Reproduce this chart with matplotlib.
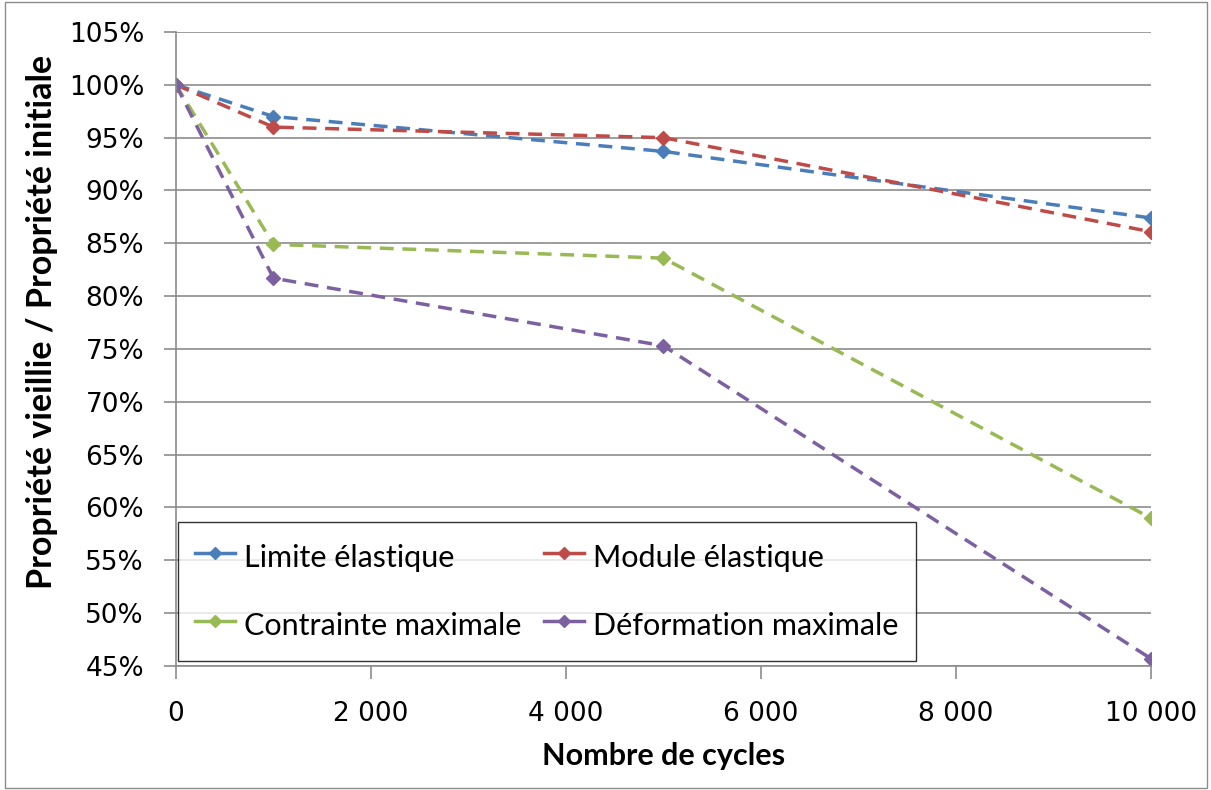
import matplotlib
matplotlib.use("Agg")
import matplotlib.pyplot as plt
from matplotlib.ticker import FuncFormatter, MultipleLocator
from matplotlib.patches import Rectangle
from matplotlib.lines import Line2D

# data
cycles = [0, 1000, 5000, 10000]
limite = [100, 97.0, 93.7, 87.4]
module = [100, 96.0, 95.0, 86.1]
contrainte = [100, 84.9, 83.6, 59.0]
deformation = [100, 81.7, 75.3, 45.7]

series = [
    ("Limite élastique", limite, "#4A7EBB"),
    ("Module élastique", module, "#BE4B48"),
    ("Contrainte maximale", contrainte, "#98B954"),
    ("Déformation maximale", deformation, "#7D60A0"),
]

fig = plt.figure(figsize=(12.11, 7.9), dpi=100)
ax = fig.add_axes([0.1453, 0.157, 0.805, 0.8025])

handles = {}
for name, vals, col in series:
    ax.plot(cycles, vals, linestyle=(0, (4, 2.5)), linewidth=2.5, color=col,
            marker="D", markersize=7)
    # legend shows a short solid line with a small diamond
    handles[name] = Line2D([], [], color=col, linewidth=2.5, marker="D", markersize=6)

ax.set_xlim(0, 10000)
ax.set_ylim(45, 105)
ax.xaxis.set_major_locator(MultipleLocator(2000))
ax.yaxis.set_major_locator(MultipleLocator(5))
ax.xaxis.set_major_formatter(FuncFormatter(lambda v, p: f"{int(v):,}".replace(",", " ")))
ax.yaxis.set_major_formatter(FuncFormatter(lambda v, p: f"{int(round(v))}%"))

ax.grid(axis="y", color="#8c8c8c", linewidth=1.2)
ax.set_axisbelow(True)
for s in ["top", "right"]:
    ax.spines[s].set_visible(False)
for s in ["left", "bottom"]:
    ax.spines[s].set_color("#8c8c8c")
    ax.spines[s].set_linewidth(1.2)
ax.tick_params(axis="both", colors="#8c8c8c", length=9, width=1.2, labelcolor="black",
               labelsize=19)
ax.tick_params(axis="x", pad=16)
ax.tick_params(axis="y", pad=14)
for lab in ax.get_xticklabels() + ax.get_yticklabels():
    lab.set_fontfamily("DejaVu Sans")

ax.set_xlabel("Nombre de cycles", fontsize=22, fontweight="bold", family="Lato")
ax.set_ylabel("Propriété vieillie / Propriété initiale", fontsize=24.5, fontweight="bold",
              family="Lato")
ax.xaxis.set_label_coords(0.5, -0.12)
ax.yaxis.set_label_coords(-0.121, 0.543)

order = ["Limite élastique", "Contrainte maximale", "Module élastique", "Déformation maximale"]
leg = ax.legend([handles[n] for n in order], order, loc="lower left",
                bbox_to_anchor=(0.002, 0.008, 0.757, 0.219), mode="expand",
                ncol=2, frameon=True, fancybox=False, edgecolor="black",
                prop={"family": "Lato", "size": 22}, handlelength=1.3, handletextpad=0.3,
                handleheight=1.5, borderaxespad=0, borderpad=0.56, labelspacing=1.0,
                columnspacing=1.0)
leg.get_frame().set_linewidth(1.0)

fig.patches.append(Rectangle((0.004, 0.003), 0.993, 0.994, transform=fig.transFigure,
                             fill=False, edgecolor="#8c8c8c", linewidth=1.0))

fig.savefig("out.png", dpi=100)
